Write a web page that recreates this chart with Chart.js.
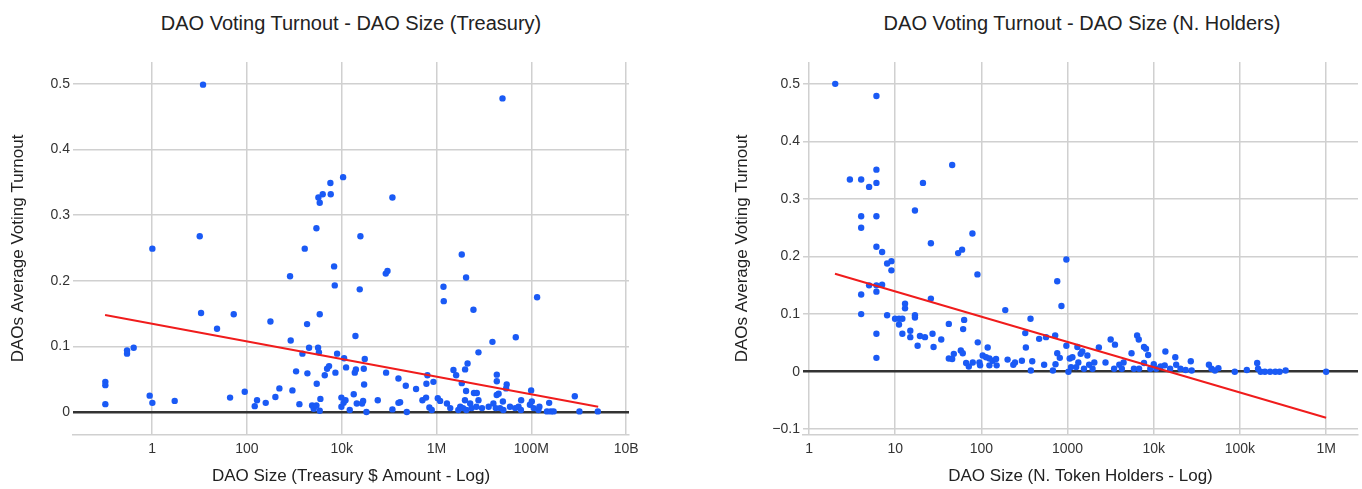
<!DOCTYPE html>
<html>
<head>
<meta charset="utf-8">
<script src="https://cdn.jsdelivr.net/npm/chart.js@4.4.1/dist/chart.umd.min.js"></script>
<style>
  body { margin: 0; background: #fff; width: 1362px; height: 489px; overflow: hidden; position: relative;
         font-family: "Liberation Sans", Arial, sans-serif; }
  .box { position: absolute; top: 0; height: 489px; }
  #box-left { left: 0; width: 680px; }
  #box-right { left: 680px; width: 682px; }
  .title { position: absolute; top: 11px; line-height: 24px; font-size: 20px; color: #222;
           transform: translateX(-50%); white-space: nowrap; }
</style>
</head>
<body>
<div class="title" style="left:351px">DAO Voting Turnout - DAO Size (Treasury)</div>
<div class="title" style="left:1082px">DAO Voting Turnout - DAO Size (N. Holders)</div>
<div class="box" id="box-left"><canvas id="chart-left"></canvas></div>
<div class="box" id="box-right"><canvas id="chart-right"></canvas></div>
<script>
/* DAO turnout vs size, two log-x scatter plots */
// x values are log10 of the DAO size (axis shows the log scale)
const treasuryLog = [
  -0.985, -0.985, -0.985, -0.527, -0.527, -0.387, -0.05, 0.007, 0.007, 0.478,
  1.076, 1.006, 1.034, 1.371, 1.723, 1.646, 1.955, 2.166, 2.215, 2.398,
  2.497, 2.602, 2.686, 2.911, 2.925, 2.961, 3.038, 3.108, 3.172, 3.221,
  3.27, 3.277, 3.312, 3.376, 3.41, 3.467, 3.474, 3.509, 3.537, 3.502,
  3.52, 3.537, 3.551, 3.537, 3.467, 3.6, 3.643, 3.692, 3.734, 3.762,
  3.769, 3.84, 3.854, 3.868, 3.903, 3.994, 3.994, 4.03, 4.051, 4.08,
  4.04, 4.093, 4.17, 4.254, 4.29, 4.276, 4.3, 4.318, 4.381, 4.395,
  4.452, 4.466, 4.473, 4.487, 4.522, 4.43, 4.761,
  4.937, 4.93, 4.966, 5.07, 5.07, 5.197, 5.232, 5.197, 5.352, 5.373,
  5.569, 5.703, 5.78, 5.808, 5.787, 5.85, 5.9, 5.935, 6.027, 6.076,
  6.147, 6.153, 6.22, 6.29, 6.357, 6.414, 6.46, 6.5, 6.533, 6.533,
  6.603, 6.624, 6.655, 6.6, 6.63, 6.56, 6.624, 6.71, 6.74, 6.779,
  6.79, 6.85, 6.84, 6.885, 6.885, 6.96, 7.1, 7.18, 7.2, 7.25,
  7.272, 7.272, 7.27, 7.31, 7.392, 7.34, 7.4, 7.41, 7.48, 7.468,
  7.55, 7.672, 7.66, 7.73, 7.78, 7.785, 7.97, 7.996, 8.01, 8.05,
  8.122, 8.17, 8.15, 8.33, 8.376, 8.41, 8.47, 8.917, 9.015, 9.402
];
const treasuryTurnout = [
  0.012, 0.046, 0.041, 0.089, 0.094, 0.098, 0.025, 0.014, 0.249, 0.017,
  0.499, 0.268, 0.151, 0.127, 0.149, 0.022, 0.031, 0.009, 0.018, 0.014,
  0.138, 0.023, 0.036, 0.207, 0.109, 0.033, 0.062, 0.012, 0.089, 0.249,
  0.134, 0.059, 0.098, 0.010, 0.005, 0.28, 0.043, 0.327, 0.319, 0.098,
  0.091, 0.149, 0.020, 0.002, 0.010, 0.332, 0.056, 0.066, 0.070, 0.349,
  0.332, 0.222, 0.193, 0.060, 0.089, 0.022, 0.008, 0.358, 0.082, 0.018,
  0.014, 0.068, 0.003, 0.027, 0.116, 0.060, 0.065, 0.013, 0.187, 0.268,
  0.017, 0.066, 0.042, 0.081, 0.0, 0.013, 0.018,
  0.060, 0.211, 0.215, 0.327, 0.004, 0.051, 0.015, 0.014, 0.040, 0.0,
  0.035, 0.018, 0.022, 0.056, 0.043, 0.007, 0.003, 0.046, 0.021, 0.017,
  0.191, 0.169, 0.013, 0.006, 0.064, 0.056, 0.003, 0.008, 0.240, 0.044,
  0.065, 0.205, 0.074, 0.018, 0.003, 0.006, 0.032, 0.013, 0.006, 0.156,
  0.029, 0.029, 0.008, 0.091, 0.018, 0.006, 0.008, 0.107, 0.013, 0.006,
  0.057, 0.047, 0.026, 0.028, 0.478, 0.006, 0.016, 0.003, 0.042, 0.036,
  0.008, 0.114, 0.006, 0.008, 0.003, 0.018, 0.011, 0.033, 0.016, 0.006,
  0.175, 0.008, 0.003, 0.001, 0.014, 0.001, 0.001, 0.024, 0.001, 0.001
];
const treasuryTrendLog = [-0.99, 9.41];
const treasuryTrendTurnout = [0.148, 0.008];
const treasuryTicks = [0, 2, 4, 6, 8, 10];
const treasuryTickLabels = ["1", "100", "10k", "1M", "100M", "10B"];
const treasuryYTicks = [0, 0.1, 0.2, 0.3, 0.4, 0.5];
const treasuryYLabels = ["0", "0.1", "0.2", "0.3", "0.4", "0.5"];

const holdersLog = [
  0.304, 0.474, 0.605, 0.605, 0.605, 0.605, 0.605, 0.697, 0.697, 0.782,
  0.782, 0.782, 0.782, 0.782, 0.782, 0.782, 0.782, 0.782, 0.848, 0.848,
  0.906, 0.956, 0.956, 0.906, 0.998, 1.044, 1.044, 1.083, 1.083, 1.114,
  1.114, 1.175, 1.175, 1.229, 1.229, 1.229, 1.26, 1.287, 1.322, 1.345,
  1.414, 1.414, 1.433, 1.445, 1.534, 1.622, 1.622, 1.661, 1.661, 1.68,
  1.73, 1.776, 1.761, 1.784, 1.8, 1.788, 1.823, 1.854, 1.896, 1.9,
  1.954, 1.958, 1.977, 1.985, 2.015, 2.073, 2.054, 2.093, 2.093, 2.131,
  2.17, 2.177, 2.277, 2.304, 2.37, 2.39, 2.47, 2.509, 2.516, 2.57,
  2.574, 2.59, 2.67, 2.728, 2.75, 2.83, 2.86, 2.88, 2.88, 2.929,
  2.986, 2.856, 2.91, 2.986, 3.01, 3.025, 3.056, 3.04, 3.1, 3.114,
  3.125, 3.152, 3.17, 3.19, 3.23, 3.25, 3.29, 3.31, 3.363, 3.44,
  3.5, 3.55, 3.54, 3.6, 3.63, 3.65, 3.742, 3.77, 3.807, 3.826,
  3.83, 3.887, 3.91, 3.935, 3.887, 3.96, 4.0, 4.03, 4.08, 4.135,
  4.127, 4.19, 4.25, 4.26, 4.31, 4.37, 4.43, 4.44, 4.64, 4.67,
  4.71, 4.75, 4.94, 5.08, 5.2, 5.21, 5.24, 5.29, 5.35, 5.41,
  5.46, 5.53, 6.0
];
const holdersTurnout = [
  0.5, 0.334, 0.334, 0.270, 0.250, 0.134, 0.100, 0.321, 0.150, 0.479,
  0.351, 0.328, 0.270, 0.217, 0.150, 0.139, 0.066, 0.024, 0.208, 0.151,
  0.188, 0.192, 0.176, 0.098, 0.092, 0.082, 0.092, 0.092, 0.066, 0.118,
  0.110, 0.071, 0.060, 0.280, 0.098, 0.094, 0.045, 0.062, 0.328, 0.060,
  0.223, 0.127, 0.066, 0.043, 0.056, 0.083, 0.023, 0.359, 0.022, 0.031,
  0.206, 0.212, 0.037, 0.032, 0.090, 0.074, 0.015, 0.009, 0.240, 0.016,
  0.169, 0.051, 0.016, 0.011, 0.028, 0.042, 0.025, 0.023, 0.011, 0.019,
  0.022, 0.011, 0.107, 0.021, 0.012, 0.016, 0.019, 0.067, 0.042, 0.092,
  0.002, 0.018, 0.057, 0.012, 0.060, 0.002, 0.013, 0.032, 0.157, 0.114,
  0.195, 0.063, 0.024, 0.045, 0.0, 0.023, 0.025, 0.008, 0.008, 0.043,
  0.016, 0.031, 0.035, 0.005, 0.028, 0.012, 0.005, 0.016, 0.042, 0.016,
  0.056, 0.047, 0.005, 0.012, 0.005, 0.016, 0.032, 0.005, 0.063, 0.056,
  0.005, 0.043, 0.040, 0.029, 0.015, 0.005, 0.013, 0.005, 0.009, 0.035,
  0.011, 0.005, 0.025, 0.012, 0.005, 0.003, 0.018, 0.002, 0.012, 0.005,
  0.002, 0.006, 0.0, 0.003, 0.015, 0.005, 0.0, 0.0, 0.0, 0.0,
  0.0, 0.002, 0.0
];
const holdersTrendLog = [0.301, 6.0];
const holdersTrendTurnout = [0.17, -0.08];
const holdersTicks = [0, 1, 2, 3, 4, 5, 6];
const holdersTickLabels = ["1", "10", "100", "1000", "10k", "100k", "1M"];
const holdersYTicks = [-0.1, 0, 0.1, 0.2, 0.3, 0.4, 0.5];
const holdersYLabels = ["\u22120.1", "0", "0.1", "0.2", "0.3", "0.4", "0.5"];

(() => {
  "use strict";
  const FONT = '"Liberation Sans", Arial, sans-serif';
  const GRID = "#d0d0d0";
  const DOT = "#1a5af5";
  const TREND = "#f01c1c";
  Chart.defaults.font.family = FONT;
  Chart.defaults.color = "#333";

  const pts = (xs, ys) => xs.map((x, i) => ({ x, y: ys[i] }));

  function makeChart(id, c) {
    return new Chart(document.getElementById(id), {
      type: "scatter",
      data: {
        datasets: [
          { type: "line", data: pts(c.trendX, c.trendY), borderColor: TREND, borderWidth: 2,
            pointRadius: 0, order: 0 },
          { data: pts(c.xs, c.ys), backgroundColor: DOT, borderWidth: 0, pointRadius: 3.2, order: 1 },
        ],
      },
      options: {
        responsive: true, maintainAspectRatio: false, animation: false,
        layout: { padding: { top: 62, bottom: 0, left: c.padLeft, right: c.padRight } },
        plugins: { legend: { display: false }, tooltip: { enabled: false } },
        scales: {
          x: {
            type: "linear", min: c.xMin, max: c.xMax,
            afterBuildTicks: (s) => { s.ticks = c.xTicks.map((v) => ({ value: v })); },
            afterFit: (s) => { s.height = 54; },
            ticks: { callback: (v, i) => c.xLabels[i], padding: 6, maxRotation: 0,
                     font: { size: 14 }, color: "#333" },
            grid: { color: GRID, lineWidth: 1.5, drawTicks: false },
            border: { display: true, color: GRID, width: 1.5 },
            title: { display: true, text: c.xTitle, font: { size: 17 }, color: "#222",
                     padding: { top: 0, bottom: 2 } },
          },
          y: {
            min: c.yMin, max: c.yMax,
            afterBuildTicks: (s) => { s.ticks = c.yTicks.map((v) => ({ value: v })); },
            afterFit: (s) => { s.width = c.yWidth; },
            ticks: { callback: (v, i) => c.yLabels[i], padding: 3, font: { size: 14 }, color: "#333" },
            grid: {
              drawTicks: false,
              color: (ctx) => (ctx.tick && ctx.tick.value === 0 ? "#333" : GRID),
              lineWidth: (ctx) => (ctx.tick && ctx.tick.value === 0 ? 2.5 : 1.5),
            },
            border: { display: false },
            title: { display: true, text: "DAOs Average Voting Turnout", font: { size: 17 }, color: "#222",
                     padding: { top: 8, bottom: 0 } },
          },
        },
      },
    });
  }

  makeChart("chart-left", {
    xs: treasuryLog, ys: treasuryTurnout, trendX: treasuryTrendLog, trendY: treasuryTrendTurnout,
    xTicks: treasuryTicks, xLabels: treasuryTickLabels, yTicks: treasuryYTicks, yLabels: treasuryYLabels,
    xMin: -1.667, xMax: 10.06, yMin: -0.035, yMax: 0.5335,
    padLeft: 0, padRight: 51, yWidth: 73,
    xTitle: "DAO Size (Treasury $ Amount - Log)",
  });
  makeChart("chart-right", {
    xs: holdersLog, ys: holdersTurnout, trendX: holdersTrendLog, trendY: holdersTrendTurnout,
    xTicks: holdersTicks, xLabels: holdersTickLabels, yTicks: holdersYTicks, yLabels: holdersYLabels,
    xMin: -0.07, xMax: 6.37, yMin: -0.11, yMax: 0.538,
    padLeft: 44, padRight: 2, yWidth: 79,
    xTitle: "DAO Size (N. Token Holders - Log)",
  });
})();
</script>
</body>
</html>
